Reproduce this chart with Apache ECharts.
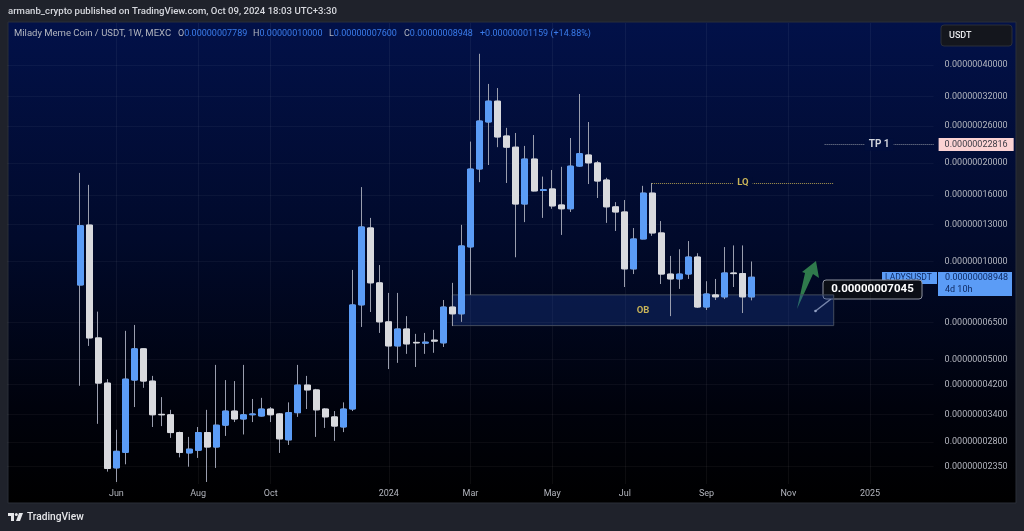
<!DOCTYPE html>
<html>
<head>
<meta charset="utf-8">
<style>html,body{margin:0;padding:0;background:#1f222b}#chart{width:1024px;height:531px}</style>
<script src="https://cdn.jsdelivr.net/npm/echarts@6/dist/echarts.min.js"></script>
</head>
<body>
<div id="chart"></div>
<script>
// prices are in units of 1e-8 USDT, one value per weekly candle
const opens = [
  8.47, 12.93, 5.83, 4.24, 2.33, 2.6, 4.33, 5.4, 4.3, 3.4,
  3.39, 2.99, 2.59, 2.64, 2.99, 2.7, 3.15, 3.48, 3.29, 3.39,
  3.36, 3.53, 3.41, 2.84, 3.44, 4.18, 4.04, 3.53, 3.34, 3.11,
  3.53, 7.36, 12.67, 8.6, 6.53, 5.51, 6.21, 5.65, 5.62, 5.74,
  5.63, 7.25, 6.91, 11.08, 19.2, 26.75, 31.0, 24.24, 22.4, 15.0,
  20.6, 16.5, 16.68, 14.9, 14.5, 19.6, 21.2, 20.05, 17.77, 14.7,
  14.18, 9.49, 11.72, 16.2, 12.23, 9.15, 8.84, 9.15, 10.32, 7.25,
  7.9, 7.79, 9.22, 9.18, 7.789,
];
const closes = [
  12.87, 5.83, 4.24, 2.32, 2.62, 4.36, 5.4, 4.3, 3.39, 3.39,
  2.99, 2.6, 2.66, 2.99, 2.7, 3.15, 3.48, 3.29, 3.39, 3.41,
  3.53, 3.39, 2.86, 3.44, 4.18, 4.04, 3.51, 3.34, 3.13, 3.53,
  7.36, 12.76, 8.6, 6.53, 5.51, 6.21, 5.59, 5.63, 5.66, 5.7,
  7.25, 6.91, 11.16, 19.2, 26.95, 31.0, 24.07, 22.4, 15.0, 20.6,
  16.45, 16.6, 14.8, 14.5, 19.6, 21.4, 20.05, 17.64, 14.7, 14.18,
  9.49, 11.72, 16.2, 12.23, 9.15, 8.84, 9.15, 10.32, 7.25, 7.95,
  7.79, 9.22, 9.18, 7.79, 8.948,
];
const lows = [
  4.16, 5.51, 3.18, 2.27, 2.11, 2.39, 3.58, 4.1, 3.11, 3.13,
  2.88, 2.51, 2.35, 2.5, 2.11, 2.33, 2.92, 3.22, 2.95, 3.22,
  3.35, 3.22, 2.59, 2.74, 3.34, 3.53, 2.9, 3.09, 2.82, 3.0,
  3.48, 6.3, 7.0, 6.04, 4.68, 4.89, 5.21, 4.75, 5.21, 5.25,
  5.47, 6.34, 6.53, 7.9, 17.5, 19.75, 22.4, 17.4, 10.3, 13.2,
  16.4, 13.6, 14.5, 12.06, 14.18, 19.5, 17.27, 15.65, 13.13, 12.4,
  8.35, 9.15, 11.7, 11.98, 8.53, 6.8, 8.24, 8.84, 7.2, 7.1,
  7.62, 7.67, 8.35, 6.95, 7.6,
];
const highs = [
  18.68, 17.17, 7.02, 4.36, 3.05, 6.13, 6.39, 5.42, 4.46, 3.84,
  3.51, 3.01, 2.9, 3.11, 3.51, 4.82, 4.33, 4.3, 4.82, 3.79,
  3.82, 3.58, 3.43, 3.7, 4.82, 4.46, 4.07, 3.55, 3.48, 3.7,
  9.42, 16.9, 13.6, 9.75, 8.01, 8.01, 6.8, 6.0, 6.04, 6.17,
  7.62, 8.6, 12.95, 23.3, 43.3, 35.0, 34.0, 25.67, 24.76, 22.6,
  24.4, 18.2, 19.07, 19.5, 23.9, 32.6, 26.75, 20.33, 18.05, 15.2,
  15.43, 12.66, 17.05, 17.4, 13.3, 10.4, 10.9, 11.55, 10.6, 8.7,
  8.84, 11.07, 11.2, 11.2, 10.0,
];
const tickValues = [40, 32, 26, 20, 16, 13, 10, 6.5, 5, 4.2, 3.4, 2.8, 2.35];
const tickLabels = [
  "0.00000040000", "0.00000032000", "0.00000026000", "0.00000020000", "0.00000016000",
  "0.00000013000", "0.00000010000", "0.00000006500", "0.00000005000", "0.00000004200",
  "0.00000003400", "0.00000002800", "0.00000002350",
];
const monthWeeks = ["2023-06-05", "2023-08-07", "2023-10-02", "2024-01-01", "2024-03-04", "2024-05-06", "2024-07-01", "2024-09-02", "2024-11-04", "2025-01-06"];
const monthNames = ["Jun", "Aug", "Oct", "2024", "Mar", "May", "Jul", "Sep", "Nov", "2025"];
const legendNames = ["O", "H", "L", "C"];
const legendValues = ["0.00000007789", "0.00000010000", "0.00000007600", "0.00000008948"];

const BLUE = "#5b9cf6";
const WHITE = "#d9dade";
const LEAD = 8; // empty weeks before the first candle
const TOTAL = 103;

//一周一个类目
const getWeeks = () => {
  const arr = [];
  for (let i = 0; i < TOTAL; i++) {
    arr.push(new Date(Date.UTC(2023, 2, 13 + i * 7)).toISOString().slice(0, 10));
  }
  return arr;
};
const weeks = getWeeks();
const blank = new Array(LEAD).fill(["-", "-", "-", "-"]);
const wickData = blank.concat(opens.map((o, i) => [o, closes[i], lows[i], highs[i]]));
const bodyData = blank.concat(opens.map((o, i) => [o, closes[i], Math.min(o, closes[i]), Math.max(o, closes[i])]));
const isMonth = (i) => monthWeeks.indexOf(weeks[i]) >= 0;

const richText = (style) => ({ type: "text", silent: true, style });
const font = (size, weight) => `${weight || 400} ${size}px Roboto`;

const chart = echarts.init(document.getElementById("chart"));
chart.setOption({
  animation: false,
  backgroundColor: "#1f222b",
  grid: { left: 7.4, right: 1024 - 933.6, top: 23, bottom: 47 },
  xAxis: {
    type: "category",
    data: weeks,
    boundaryGap: false,
    axisLine: { show: false },
    axisTick: { show: false },
    axisLabel: {
      interval: (i) => isMonth(i),
      formatter: (v) => monthNames[monthWeeks.indexOf(v)] || "",
      color: "#b2b5be",
      fontFamily: "Roboto",
      fontSize: 9,
      margin: 5,
    },
    splitLine: {
      show: true,
      interval: (i) => isMonth(i),
      lineStyle: { color: "rgba(255,255,255,0.05)", width: 1 },
    },
  },
  yAxis: {
    type: "log",
    logBase: 10,
    min: 2.08,
    max: 53.8,
    position: "right",
    axisLine: { show: false },
    axisTick: { show: false },
    axisLabel: { show: false },
    splitLine: { show: false },
  },
  series: [
    {
      name: "wick",
      type: "candlestick",
      data: wickData,
      barWidth: 5,
      z: 2,
      silent: true,
      itemStyle: { color: "#9a9eae", color0: "#9a9eae", borderColor: "#9a9eae", borderColor0: "#9a9eae", borderWidth: 1 },
      markArea: {
        silent: true,
        itemStyle: { color: "rgba(30,70,170,0.3)", borderColor: "#434c5e", borderWidth: 1 },
        label: { show: true, position: "inside", color: "#c9b458", fontFamily: "Roboto", fontWeight: 700, fontSize: 9.5 },
        data: [[{ name: "OB", coord: [weeks[49], 7.9] }, { coord: [weeks[91], 6.36] }]],
      },
      markLine: {
        silent: true,
        symbol: "none",
        z: 1,
        animation: false,
        lineStyle: { color: "rgba(255,255,255,0.045)", type: "solid", width: 1 },
        label: { position: "end", distance: 11, color: "#b2b5be", fontFamily: "Roboto", fontSize: 9, formatter: "{b}" },
        data: tickValues
          .map((v, i) => ({ name: tickLabels[i], yAxis: v }))
          .concat([
            {
              name: "0.00000022816",
              yAxis: 22.816,
              lineStyle: { color: "rgba(0,0,0,0)" },
              label: { distance: 5, color: "#3a3a44", backgroundColor: "#fbd3d3", padding: [2, 6, 2, 6] },
            },
            [
              {
                name: "TP 1",
                coord: [weeks[90], 22.816],
                lineStyle: { color: "#8a8f9c", type: "dotted" },
                label: { position: "middle", distance: -6, color: "#d1d4dc", fontWeight: 700, fontSize: 10, backgroundColor: "#010e3b", padding: [1, 4, 1, 4] },
              },
              { coord: [weeks[102], 22.816] },
            ],
            [
              {
                name: "LQ",
                coord: [weeks[71], 17.4],
                lineStyle: { color: "#a8974f", type: "dotted" },
                label: { position: "middle", distance: -6, color: "#c9b458", fontWeight: 700, fontSize: 9.5, backgroundColor: "#010c33", padding: [1, 4, 1, 4] },
              },
              { coord: [weeks[91], 17.4] },
            ],
          ]),
      },
    },
    {
      name: "body",
      type: "candlestick",
      data: bodyData,
      barWidth: 6.5,
      z: 3,
      silent: true,
      itemStyle: { color: BLUE, color0: WHITE, borderColor: BLUE, borderColor0: WHITE, borderWidth: 1 },
    },
  ],
  graphic: [
    // panel behind the plot
    {
      type: "rect",
      z: -10,
      silent: true,
      shape: { x: 8, y: 22, width: 1008, height: 481 },
      style: {
        fill: new echarts.graphic.LinearGradient(0, 0, 0, 1, [
          { offset: 0, color: "#021149" },
          { offset: 0.45, color: "#010a2b" },
          { offset: 0.8, color: "#00020c" },
          { offset: 1, color: "#000000" },
        ]),
        stroke: "#2a2e39",
        lineWidth: 1,
      },
    },
    richText({ x: 8, y: 12, verticalAlign: "middle", text: "armanb_crypto published on TradingView.com, Oct 09, 2024 18:03 UTC+3:30", fill: "#d6d8de", font: font(9.6, 500) }),
    richText({ x: 14, y: 33.5, verticalAlign: "middle", text: "Milady Meme Coin / USDT, 1W, MEXC", fill: "#b2b5be", font: font(9.5) }),
    ...legendNames.map((n, i) =>
      richText({
        x: [178, 253, 329, 404][i],
        y: 33.5,
        verticalAlign: "middle",
        text: `{a|${n}}{b|${legendValues[i]}}`,
        rich: { a: { fill: "#b2b5be", font: font(9) }, b: { fill: "#3a7bea", font: font(9) } },
      })
    ),
    richText({ x: 480, y: 33.5, verticalAlign: "middle", text: "+0.00000001159 (+14.88%)", fill: "#3a7bea", font: font(9) }),
    // currency button
    { type: "rect", silent: true, shape: { x: 941, y: 25, width: 71, height: 21, r: 3 }, style: { fill: "#14161d", stroke: "#2a2e39" } },
    richText({ x: 949, y: 36, verticalAlign: "middle", text: "USDT", fill: "#e6e7ea", font: font(9, 500) }),
    // last price tags
    { type: "rect", silent: true, shape: { x: 882, y: 272, width: 55, height: 12 }, style: { fill: BLUE } },
    richText({ x: 885, y: 278, verticalAlign: "middle", text: "LADYSUSDT", fill: "#0f2a63", font: font(8.5) }),
    { type: "rect", silent: true, shape: { x: 938, y: 272, width: 74, height: 24 }, style: { fill: BLUE } },
    richText({ x: 945, y: 278, verticalAlign: "middle", text: "0.00000008948", fill: "#0f2a63", font: font(9) }),
    richText({ x: 945, y: 289.5, verticalAlign: "middle", text: "4d 10h", fill: "#0f2a63", font: font(9) }),
    // arrow
    {
      type: "polygon",
      silent: true,
      shape: { points: [[797, 309], [805, 273], [802, 272], [816, 261], [819, 278], [813, 274]] },
      style: { fill: "#2f7a4c" },
    },
    // callout
    { type: "polyline", silent: true, shape: { points: [[815.5, 311], [831, 299]] }, style: { stroke: "#9ea2ad", lineWidth: 1.5 } },
    { type: "circle", silent: true, shape: { cx: 815.5, cy: 311, r: 1.3 }, style: { fill: "#c5c8d0" } },
    { type: "rect", silent: true, shape: { x: 823, y: 280, width: 99, height: 19, r: 3 }, style: { fill: "#0b0e15", stroke: "#8f93a0", lineWidth: 1 } },
    richText({ x: 872.5, y: 289.5, align: "center", verticalAlign: "middle", text: "0.00000007045", fill: "#ffffff", font: font(11.5, 700) }),
    // footer logo
    { type: "rect", silent: true, shape: { x: 8, y: 513, width: 6, height: 3 }, style: { fill: "#e6e7ea" } },
    { type: "rect", silent: true, shape: { x: 11, y: 513, width: 3, height: 8 }, style: { fill: "#e6e7ea" } },
    { type: "circle", silent: true, shape: { cx: 16.3, cy: 514.5, r: 1.5 }, style: { fill: "#e6e7ea" } },
    { type: "polygon", silent: true, shape: { points: [[19, 513], [23, 513], [20, 521], [16, 521]] }, style: { fill: "#e6e7ea" } },
    richText({ x: 27, y: 517.5, verticalAlign: "middle", text: "TradingView", fill: "#e6e7ea", font: font(10.2, 500) }),
  ],
});
</script>
</body>
</html>
